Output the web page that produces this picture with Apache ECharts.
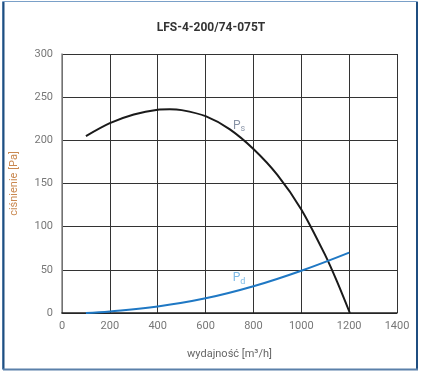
<!DOCTYPE html>
<html><head><meta charset="utf-8">
<script src="https://cdn.jsdelivr.net/npm/echarts@6/dist/echarts.min.js"></script>
<style>html,body{margin:0;padding:0;background:#fff}#c{width:422px;height:374px}</style>
</head><body><div id="c"></div>
<script>
const title = 'LFS-4-200/74-075T';
const xTicks = [0,200,400,600,800,1000,1200,1400];
const yTicks = [0,50,100,150,200,250,300];
const psFlow = [100,200,300,400,450,500,600,700,800,900,1000,1100,1150,1203];
const psVal  = [205,220,230,235.5,236,235,228,213,190,160,120,67,36,0];
const pdFlow = [100,200,400,600,800,1000,1200];
const pdVal  = [0,1.8,7.5,17,31,49,70];
const labelPs = [740,217];
const labelPd = [740,40];

const chart = echarts.init(document.getElementById('c'));
const F = 'Roboto, "DejaVu Sans", sans-serif';
chart.setOption({
  animation:false,
  title:{text:title,left:'center',top:17,textStyle:{fontSize:12,fontWeight:'bold',color:'#333',fontFamily:F}},
  graphic:[
    {type:'rect',shape:{x:2.5,y:1.5,width:415,height:368},style:{fill:'none',stroke:'#7aa0c8',lineWidth:1}},
    {type:'polyline',shape:{points:[[3.5,2],[3.5,369]]},style:{stroke:'#1f4e80',lineWidth:2}},
    {type:'polyline',shape:{points:[[417,2],[417,370]]},style:{stroke:'#1f4e80',lineWidth:2}},
    {type:'polyline',shape:{points:[[3,369.5],[418,369.5]]},style:{stroke:'#5a80aa',lineWidth:2}}
  ],
  grid:{left:62,right:25,top:54,bottom:61},
  xAxis:{type:'value',min:0,max:1400,interval:200,
    name:'wydajność [m³/h]',nameLocation:'middle',nameGap:36,
    nameTextStyle:{color:'#666',fontSize:11,fontFamily:F},
    axisLine:{show:true,lineStyle:{color:'#222',width:1.5}},axisTick:{show:false},
    axisLabel:{color:'#777',fontSize:11,margin:8,fontFamily:F,formatter:v=>xTicks.includes(v)?String(v):''},
    splitLine:{show:true,lineStyle:{color:'#333',width:1}}},
  yAxis:{type:'value',min:0,max:300,interval:50,
    name:'ciśnienie [Pa]',nameLocation:'middle',nameGap:42,
    nameTextStyle:{color:'#c98850',fontSize:11,fontFamily:F},
    axisLine:{show:true,lineStyle:{color:'#888',width:1.5}},axisTick:{show:false},
    axisLabel:{color:'#777',fontSize:11,margin:9,fontFamily:F,formatter:v=>yTicks.includes(v)?String(v):''},
    splitLine:{show:true,lineStyle:{color:'#333',width:1}}},
  series:[
    {type:'line',smooth:0.3,symbol:'none',data:psFlow.map((x,i)=>[x,psVal[i]]),lineStyle:{color:'#1a1a1a',width:2},z:3},
    {type:'line',smooth:0.4,symbol:'none',data:pdFlow.map((x,i)=>[x,pdVal[i]]),lineStyle:{color:'#1f78c4',width:2},z:3},
    {type:'scatter',symbolSize:0,data:[labelPs],z:5,
      label:{show:true,position:'inside',formatter:'{a|P}{b|s}',rich:{a:{fontSize:12,color:'#6a7890',fontFamily:F},b:{fontSize:9,color:'#6a7890',fontFamily:F,padding:[6,0,0,0]}}}},
    {type:'scatter',symbolSize:0,data:[labelPd],z:5,
      label:{show:true,position:'inside',formatter:'{a|P}{b|d}',rich:{a:{fontSize:12,color:'#5aa8e0',fontFamily:F},b:{fontSize:9,color:'#5aa8e0',fontFamily:F,padding:[6,0,0,0]}}}}
  ]
});
</script></body></html>
